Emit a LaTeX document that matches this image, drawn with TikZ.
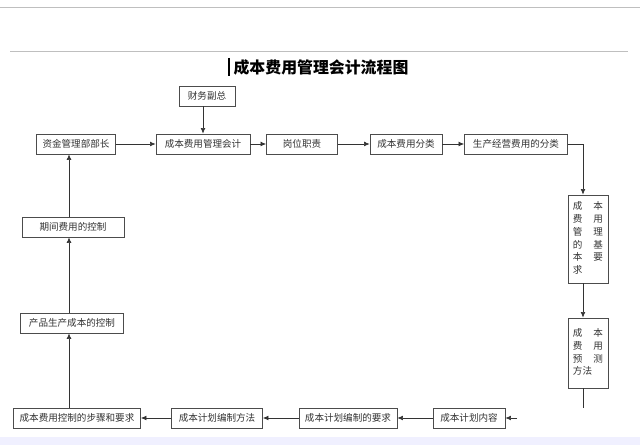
\documentclass[tikz,border=0pt]{standalone}
\usepackage{fontspec}
\setmainfont{Noto Sans CJK SC}
\usetikzlibrary{arrows.meta}

\def \rowh {0.5 cm}
\newcommand{\twochar}[2]{\makebox[0.75cm][s]{#1\hfill#2}}
\tikzstyle{box}=[draw=black!70, line width=0.5pt, minimum height=\rowh, inner sep=1pt,
  text=black!80, font=\fontsize{6.8}{9.2}\selectfont]
\tikzstyle{flow}=[-{Latex[length=4pt,width=3.5pt]}, line width=0.5pt, black!80]
\tikzstyle{rule}=[line width=0.6pt, black!25]

\begin{document}
\begin{tikzpicture}[x=0.025cm, y=-0.025cm]

\useasboundingbox[fill=white] (0,0) rectangle (640,445);
\fill[blue!6] (0,437) rectangle (640,445);
\draw[rule] (0,7) -- (640,7);
\draw[rule] (10,51) -- (628,51);

% title
\node[font=\bfseries\fontsize{11.3}{12}\selectfont] (title) at (321,67) {成本费用管理会计流程图};
\draw[line width=0.8pt] (229,58) -- (229,76);

% top row
\node[box, minimum width=1.4cm] (cw) at (207,96) {财务副总};
\node[box, minimum width=1.975cm] (fund) at (76,144) {资金管理部部长};
\node[box, minimum width=2.35cm] (acct) at (203,144) {成本费用管理会计};
\node[box, minimum width=1.775cm] (duty) at (302,144) {岗位职责};
\node[box, minimum width=1.8cm] (cls) at (406,144) {成本费用分类};
\node[box, minimum width=2.575cm] (prodcls) at (516,144) {生产经营费用的分类};

% right column
\node[box, minimum width=1cm, minimum height=2.2cm] (basic) at (588,239)
  {\begin{tabular}{@{}l@{}}\twochar{成}{本}\\ \twochar{费}{用}\\ \twochar{管}{理}\\
   \twochar{的}{基}\\ \twochar{本}{要}\\ 求\end{tabular}};
\node[box, minimum width=1cm, minimum height=1.75cm] (fcst) at (588,353)
  {\begin{tabular}{@{}l@{}}\twochar{成}{本}\\ \twochar{费}{用}\\ \twochar{预}{测}\\
   方法\end{tabular}};

% bottom row
\node[box, minimum width=1.8cm] (plan) at (469,418) {成本计划内容};
\node[box, minimum width=2.45cm] (planreq) at (348,418) {成本计划编制的要求};
\node[box, minimum width=2.275cm] (planway) at (217,418) {成本计划编制方法};
\node[box, minimum width=3.175cm] (ctrl) at (77,418) {成本费用控制的步骤和要求};

% left column
\node[box, minimum width=2.575cm] (prod) at (72,323) {产品生产成本的控制};
\node[box, minimum width=2.55cm] (period) at (73,227) {期间费用的控制};

\coordinate (leftx) at (69,0);
\coordinate (rightx) at (583,0);
\coordinate (down) at (583,408);
\coordinate (in) at (517,418);

\draw[flow] (cw.south -| acct.north) -- (acct.north);
\draw[flow] (fund) -- (acct);
\draw[flow] (acct) -- (duty);
\draw[flow] (duty) -- (cls);
\draw[flow] (cls) -- (prodcls);
\draw[flow] (prodcls.east) -| (basic.north -| rightx);
\draw[flow] (basic.south -| rightx) -- (fcst.north -| rightx);
\draw[line width=0.5pt, black!80] (fcst.south -| rightx) -- (down);
\draw[flow] (in) -- (plan);
\draw[flow] (plan) -- (planreq);
\draw[flow] (planreq) -- (planway);
\draw[flow] (planway) -- (ctrl);
\draw[flow] (ctrl.north -| leftx) -- (prod.south -| leftx);
\draw[flow] (prod.north -| leftx) -- (period.south -| leftx);
\draw[flow] (period.north -| leftx) -- (fund.south -| leftx);

\end{tikzpicture}
\end{document}
